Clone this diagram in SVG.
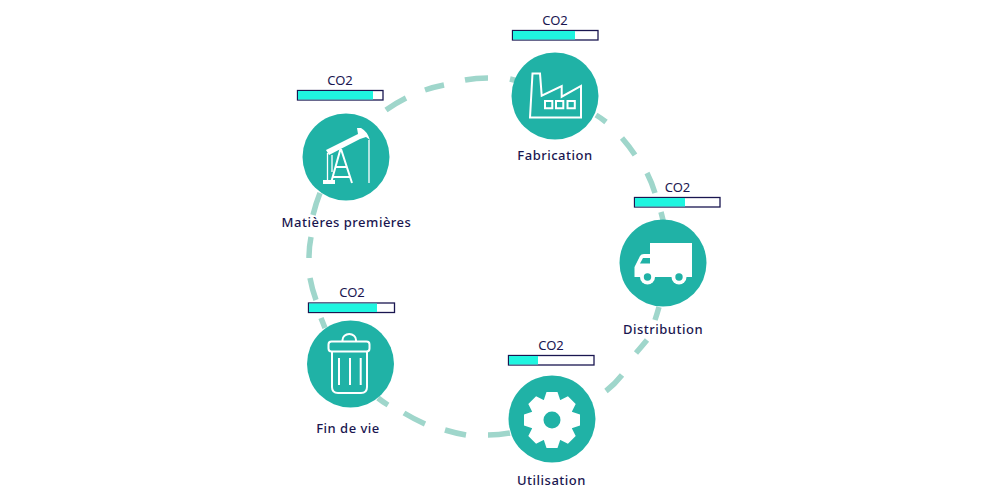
<svg xmlns="http://www.w3.org/2000/svg" width="1000" height="500" viewBox="0 0 1000 500">
<style>
.ring{fill:none;stroke:#9fd6cb;stroke-width:5.500}
.disc{fill:#20b2a6}
.track{fill:#fff;stroke:#1a1650;stroke-width:1.300}
.level{fill:#1ff5e0}
text{font-family:"Noto Sans","Liberation Sans",sans-serif;fill:#1a1650;text-anchor:middle}
.co{font-size:13px}
.name{font-size:13px;font-weight:500;letter-spacing:.5px}
.line{fill:none;stroke:#fff;stroke-width:2}
.solid{fill:#fff}
</style>
<rect width="1000" height="500" fill="#fff"/>
<g id="connectors">
<path class="ring" d="M309 258Q309 247 311 237M313 215Q316 203 320 193M386 110Q396 103 406 98M425 90Q434 87 444 85M465 80Q476 78 488 78M510 79L518 81M596 115Q601 118 606 122M622 138Q629 146 635 155M647 173Q652 183 655 193M661 212L664 224M659 307Q657 314 655 320M647 340Q642 346 636 353M622 375Q615 384 606 391M510 433Q499 435 488 435M466 435Q455 433 445 430M425 424Q414 419 404 413M388 405Q383 402 378 398M325 328L321 318M316 300Q312 289 310 278"/>
</g>
<g id="matieres">
<rect class="track" x="297.500" y="90.500" width="85.500" height="9.500"/><rect class="level" x="298" y="91" width="75" height="8.500"/>
<text class="co" x="340" y="85">CO2</text>
<circle class="disc" cx="346" cy="157" r="43.500"/>
<path class="solid" d="M326 150L358 134L357 128L361 128Q367 131 370 140L366 137L360 139L329 155Z"/>
<path class="line" d="M340.500 149L331 183M341 149L352 183M335 167H347M332 177H350"/>
<path class="solid" d="M323 180H335V184H323Z"/>
<path class="line" style="stroke-width:1.300" d="M369 140V183M327.500 153V180M332 155V172"/>
<text class="name" x="346.500" y="227">Matières premières</text>
</g>
<g id="fabrication">
<rect class="track" x="512.500" y="30.500" width="85.500" height="9.500"/><rect class="level" x="513" y="31" width="62" height="8.500"/>
<text class="co" x="555" y="25">CO2</text>
<circle class="disc" cx="555" cy="96" r="43.500"/>
<path class="line" d="M530 117.500L532.500 73.500H540L541.700 95.700L561.700 86V96.700L581 86V117.500Z"/>
<path class="line" d="M545 101h7.300v7.300h-7.300zM556 101h7.300v7.300h-7.300zM567.500 101h7.300v7.300h-7.300z"/>
<text class="name" x="555" y="160">Fabrication</text>
</g>
<g id="distribution">
<rect class="track" x="634.500" y="197.500" width="85.500" height="9.500"/><rect class="level" x="635" y="198" width="50" height="8.500"/>
<text class="co" x="677.500" y="192">CO2</text>
<circle class="disc" cx="663" cy="263" r="43.500"/>
<path class="solid" d="M650 243H692V277H650ZM650 254V277H634.500V267L640 256Q641 254 644 254Z"/>
<path class="disc" d="M640 263.500L643 258H650V263.500Z"/>
<circle class="solid" cx="647.500" cy="277" r="7.500"/><circle class="disc" cx="647.500" cy="277" r="3.700"/>
<circle class="solid" cx="679" cy="277" r="7.500"/><circle class="disc" cx="679" cy="277" r="3.700"/>
<text class="name" x="663" y="334">Distribution</text>
</g>
<g id="utilisation">
<rect class="track" x="508.500" y="355.500" width="85.500" height="9.500"/><rect class="level" x="509" y="356" width="29" height="8.500"/>
<text class="co" x="551" y="350">CO2</text>
<circle class="disc" cx="552" cy="419" r="43.500"/>
<g class="solid">
<circle cx="552" cy="420" r="21.500"/>
<path d="M543.500 401L546.500 392H557.500L560.500 401Z"/>
<path d="M543.500 401L546.500 392H557.500L560.500 401Z" transform="rotate(45 552 420)"/>
<path d="M543.500 401L546.500 392H557.500L560.500 401Z" transform="rotate(90 552 420)"/>
<path d="M543.500 401L546.500 392H557.500L560.500 401Z" transform="rotate(135 552 420)"/>
<path d="M543.500 401L546.500 392H557.500L560.500 401Z" transform="rotate(180 552 420)"/>
<path d="M543.500 401L546.500 392H557.500L560.500 401Z" transform="rotate(225 552 420)"/>
<path d="M543.500 401L546.500 392H557.500L560.500 401Z" transform="rotate(270 552 420)"/>
<path d="M543.500 401L546.500 392H557.500L560.500 401Z" transform="rotate(315 552 420)"/>
</g>
<circle class="disc" cx="552" cy="420" r="8.500"/>
<text class="name" x="551.500" y="485">Utilisation</text>
</g>
<g id="fin-de-vie">
<rect class="track" x="308.500" y="303" width="86" height="9.500"/><rect class="level" x="309" y="303.500" width="68" height="8.500"/>
<text class="co" x="352" y="297">CO2</text>
<circle class="disc" cx="350.500" cy="364" r="43.500"/>
<rect class="line" x="328.500" y="341.500" width="41" height="10" rx="3"/>
<path class="line" d="M342.500 341V340A6.700 6 0 0 1 356 340V341M332 351.500V387Q332 393 338 393H361Q367 393 367 387V351.500M339 358V385M350 358V385M360.700 358V385"/>
<text class="name" x="348" y="433">Fin de vie</text>
</g>
</svg>
